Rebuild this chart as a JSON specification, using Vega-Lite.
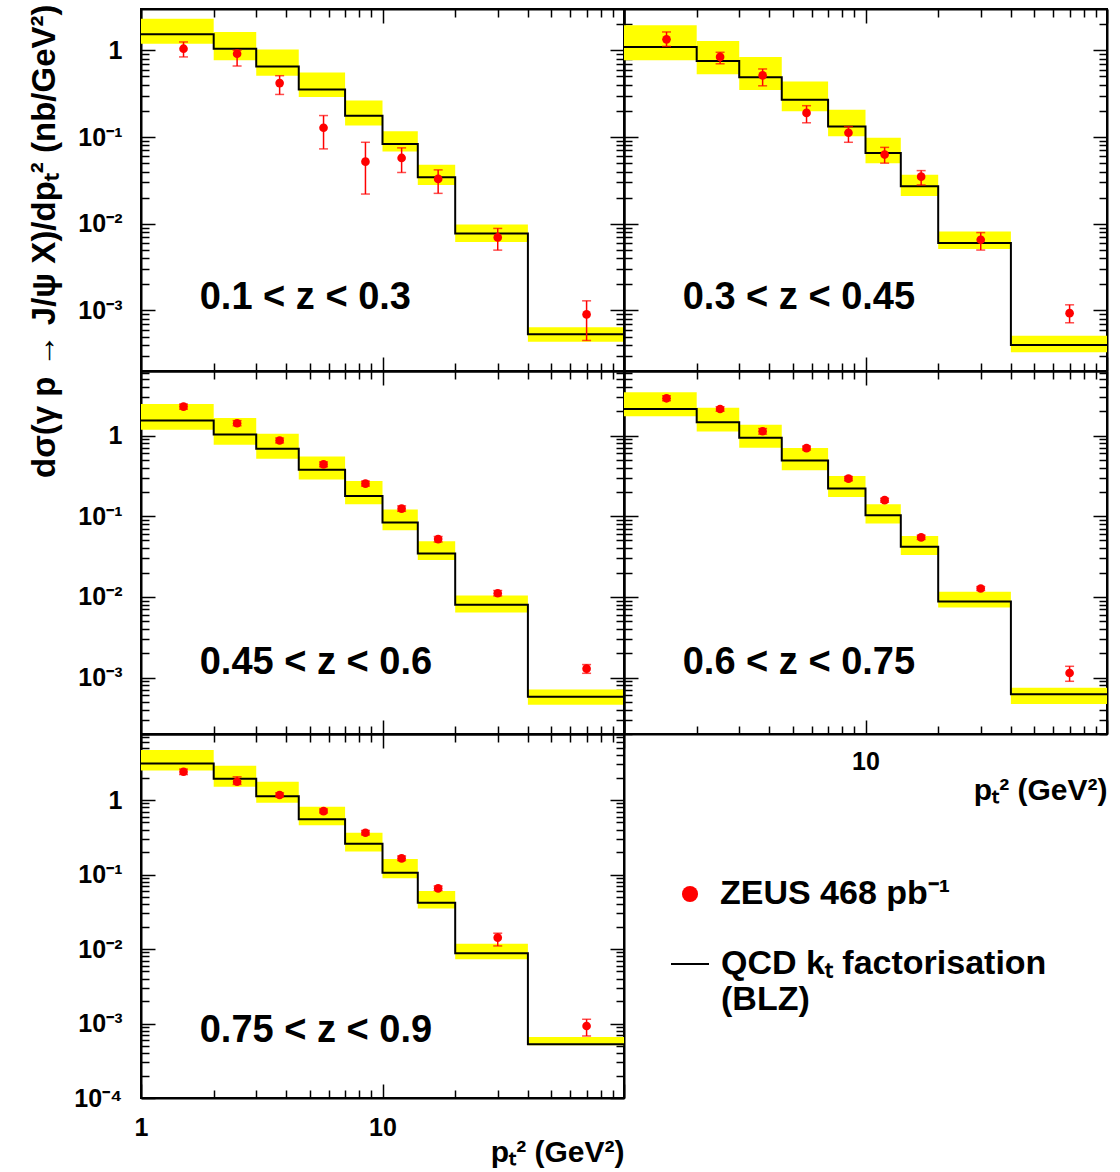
{
"$schema": "https://vega.github.io/schema/vega-lite/v6.json",
"background": "white",
"padding": {"left": 26, "top": 3, "right": 0, "bottom": 0},
"columns": 2,
"spacing": 0,
"bounds": "flush",
"config": {
  "view": {"stroke": "black", "strokeWidth": 2},
  "axis": {"domainColor": "black", "domainWidth": 2, "tickColor": "black", "tickWidth": 1.5, "labelFont": "Liberation Sans", "labelFontSize": 25, "labelFontWeight": "bold", "labelColor": "black", "titleFont": "Liberation Sans", "titleFontWeight": "bold", "titleColor": "black", "labelOverlap": false, "labelFlush": false, "grid": false, "zindex": 1}
},
"datasets": {
  "th": [
    {"panel":"p1","lo":1,"hi":2,"v":1.53,"blo":1.19,"bhi":2.32},
    {"panel":"p1","lo":2,"hi":3,"v":1.045,"blo":0.77,"bhi":1.63},
    {"panel":"p1","lo":3,"hi":4.5,"v":0.653,"blo":0.51,"bhi":1.02},
    {"panel":"p1","lo":4.5,"hi":7,"v":0.354,"blo":0.289,"bhi":0.557},
    {"panel":"p1","lo":7,"hi":10,"v":0.176,"blo":0.136,"bhi":0.264},
    {"panel":"p1","lo":10,"hi":14,"v":0.0834,"blo":0.068,"bhi":0.117},
    {"panel":"p1","lo":14,"hi":20,"v":0.0343,"blo":0.028,"bhi":0.048},
    {"panel":"p1","lo":20,"hi":40,"v":0.00773,"blo":0.00617,"bhi":0.00977},
    {"panel":"p1","lo":40,"hi":100,"v":0.00053,"blo":0.000435,"bhi":0.00064},
    {"panel":"p2","lo":1,"hi":2,"v":1.09,"blo":0.77,"bhi":1.95},
    {"panel":"p2","lo":2,"hi":3,"v":0.752,"blo":0.53,"bhi":1.28},
    {"panel":"p2","lo":3,"hi":4.5,"v":0.49,"blo":0.35,"bhi":0.84},
    {"panel":"p2","lo":4.5,"hi":7,"v":0.269,"blo":0.199,"bhi":0.438},
    {"panel":"p2","lo":7,"hi":10,"v":0.132,"blo":0.102,"bhi":0.206},
    {"panel":"p2","lo":10,"hi":14,"v":0.0656,"blo":0.05,"bhi":0.098},
    {"panel":"p2","lo":14,"hi":20,"v":0.027,"blo":0.0209,"bhi":0.0368},
    {"panel":"p2","lo":20,"hi":40,"v":0.006,"blo":0.0051,"bhi":0.00815},
    {"panel":"p2","lo":40,"hi":100,"v":0.0004,"blo":0.00033,"bhi":0.00051},
    {"panel":"p3","lo":1,"hi":2,"v":1.53,"blo":1.18,"bhi":2.46},
    {"panel":"p3","lo":2,"hi":3,"v":1.03,"blo":0.77,"bhi":1.65},
    {"panel":"p3","lo":3,"hi":4.5,"v":0.685,"blo":0.515,"bhi":1.05},
    {"panel":"p3","lo":4.5,"hi":7,"v":0.377,"blo":0.284,"bhi":0.55},
    {"panel":"p3","lo":7,"hi":10,"v":0.178,"blo":0.141,"bhi":0.273},
    {"panel":"p3","lo":10,"hi":14,"v":0.0836,"blo":0.067,"bhi":0.121},
    {"panel":"p3","lo":14,"hi":20,"v":0.0346,"blo":0.0286,"bhi":0.049},
    {"panel":"p3","lo":20,"hi":40,"v":0.008,"blo":0.0064,"bhi":0.0104},
    {"panel":"p3","lo":40,"hi":100,"v":0.00058,"blo":0.00046,"bhi":0.00071},
    {"panel":"p4","lo":1,"hi":2,"v":2.13,"blo":1.73,"bhi":3.43},
    {"panel":"p4","lo":2,"hi":3,"v":1.46,"blo":1.12,"bhi":2.2},
    {"panel":"p4","lo":3,"hi":4.5,"v":0.936,"blo":0.705,"bhi":1.36},
    {"panel":"p4","lo":4.5,"hi":7,"v":0.491,"blo":0.37,"bhi":0.698},
    {"panel":"p4","lo":7,"hi":10,"v":0.22,"blo":0.173,"bhi":0.315},
    {"panel":"p4","lo":10,"hi":14,"v":0.103,"blo":0.081,"bhi":0.141},
    {"panel":"p4","lo":14,"hi":20,"v":0.0418,"blo":0.033,"bhi":0.057},
    {"panel":"p4","lo":20,"hi":40,"v":0.00875,"blo":0.0074,"bhi":0.0116},
    {"panel":"p4","lo":40,"hi":100,"v":0.00062,"blo":0.00047,"bhi":0.00075},
    {"panel":"p5","lo":1,"hi":2,"v":3.1,"blo":2.5,"bhi":4.69},
    {"panel":"p5","lo":2,"hi":3,"v":1.93,"blo":1.51,"bhi":2.89},
    {"panel":"p5","lo":3,"hi":4.5,"v":1.12,"blo":0.92,"bhi":1.76},
    {"panel":"p5","lo":4.5,"hi":7,"v":0.551,"blo":0.457,"bhi":0.81},
    {"panel":"p5","lo":7,"hi":10,"v":0.259,"blo":0.203,"bhi":0.364},
    {"panel":"p5","lo":10,"hi":14,"v":0.106,"blo":0.089,"bhi":0.161},
    {"panel":"p5","lo":14,"hi":20,"v":0.0419,"blo":0.035,"bhi":0.06},
    {"panel":"p5","lo":20,"hi":40,"v":0.00875,"blo":0.0073,"bhi":0.0118},
    {"panel":"p5","lo":40,"hi":100,"v":0.000526,"blo":0.00051,"bhi":0.00066}
  ],
  "pts": [
    {"panel":"p1","x":1.5,"y":1.045,"elo":0.84,"ehi":1.25},
    {"panel":"p1","x":2.5,"y":0.915,"elo":0.66,"ehi":1.0},
    {"panel":"p1","x":3.75,"y":0.419,"elo":0.31,"ehi":0.51},
    {"panel":"p1","x":5.7,"y":0.128,"elo":0.073,"ehi":0.177},
    {"panel":"p1","x":8.5,"y":0.052,"elo":0.022,"ehi":0.087},
    {"panel":"p1","x":12,"y":0.0574,"elo":0.039,"ehi":0.075},
    {"panel":"p1","x":17,"y":0.0329,"elo":0.0224,"ehi":0.0418},
    {"panel":"p1","x":30,"y":0.00695,"elo":0.00496,"ehi":0.00883},
    {"panel":"p1","x":70,"y":0.0009,"elo":0.00045,"ehi":0.00129},
    {"panel":"p2","x":1.5,"y":1.34,"elo":1.11,"ehi":1.63},
    {"panel":"p2","x":2.5,"y":0.84,"elo":0.7,"ehi":0.95},
    {"panel":"p2","x":3.75,"y":0.514,"elo":0.39,"ehi":0.61},
    {"panel":"p2","x":5.7,"y":0.19,"elo":0.146,"ehi":0.23},
    {"panel":"p2","x":8.5,"y":0.112,"elo":0.087,"ehi":0.132},
    {"panel":"p2","x":12,"y":0.0628,"elo":0.05,"ehi":0.076},
    {"panel":"p2","x":17,"y":0.0349,"elo":0.028,"ehi":0.041},
    {"panel":"p2","x":30,"y":0.00653,"elo":0.00497,"ehi":0.0079},
    {"panel":"p2","x":70,"y":0.00093,"elo":0.00072,"ehi":0.00116},
    {"panel":"p3","x":1.5,"y":2.28,"elo":2.12,"ehi":2.45},
    {"panel":"p3","x":2.5,"y":1.42,"elo":1.32,"ehi":1.53},
    {"panel":"p3","x":3.75,"y":0.867,"elo":0.81,"ehi":0.93},
    {"panel":"p3","x":5.7,"y":0.438,"elo":0.41,"ehi":0.47},
    {"panel":"p3","x":8.5,"y":0.253,"elo":0.236,"ehi":0.272},
    {"panel":"p3","x":12,"y":0.124,"elo":0.115,"ehi":0.134},
    {"panel":"p3","x":17,"y":0.052,"elo":0.048,"ehi":0.056},
    {"panel":"p3","x":30,"y":0.0111,"elo":0.0103,"ehi":0.012},
    {"panel":"p3","x":70,"y":0.00129,"elo":0.00113,"ehi":0.00145},
    {"panel":"p4","x":1.5,"y":2.89,"elo":2.7,"ehi":3.1},
    {"panel":"p4","x":2.5,"y":2.13,"elo":2.0,"ehi":2.27},
    {"panel":"p4","x":3.75,"y":1.13,"elo":1.04,"ehi":1.22},
    {"panel":"p4","x":5.7,"y":0.698,"elo":0.66,"ehi":0.74},
    {"panel":"p4","x":8.5,"y":0.292,"elo":0.275,"ehi":0.31},
    {"panel":"p4","x":12,"y":0.158,"elo":0.149,"ehi":0.167},
    {"panel":"p4","x":17,"y":0.0546,"elo":0.0515,"ehi":0.058},
    {"panel":"p4","x":30,"y":0.0127,"elo":0.012,"ehi":0.0134},
    {"panel":"p4","x":70,"y":0.00114,"elo":0.0009,"ehi":0.00138},
    {"panel":"p5","x":1.5,"y":2.4,"elo":2.2,"ehi":2.6},
    {"panel":"p5","x":2.5,"y":1.76,"elo":1.62,"ehi":2.05},
    {"panel":"p5","x":3.75,"y":1.17,"elo":1.1,"ehi":1.25},
    {"panel":"p5","x":5.7,"y":0.711,"elo":0.67,"ehi":0.76},
    {"panel":"p5","x":8.5,"y":0.364,"elo":0.34,"ehi":0.39},
    {"panel":"p5","x":12,"y":0.165,"elo":0.154,"ehi":0.177},
    {"panel":"p5","x":17,"y":0.0652,"elo":0.061,"ehi":0.07},
    {"panel":"p5","x":30,"y":0.0142,"elo":0.011,"ehi":0.0163},
    {"panel":"p5","x":70,"y":0.000925,"elo":0.00068,"ehi":0.00114}
  ],
  "lab": [
    {"panel":"p1","label":"0.1 < z < 0.3"},
    {"panel":"p2","label":"0.3 < z < 0.45"},
    {"panel":"p3","label":"0.45 < z < 0.6"},
    {"panel":"p4","label":"0.6 < z < 0.75"},
    {"panel":"p5","label":"0.75 < z < 0.9"}
  ]
},
"concat": [
{
 "width": 483, "height": 362,
 "resolve": {"axis": {"x": "independent", "y": "independent"}},
 "layer": [
  {"data":{"name":"th"},"transform":[{"filter":"datum.panel=='p1'"}],
   "mark":{"type":"rect","color":"#ffff00"},
   "encoding":{
    "x":{"field":"lo","type":"quantitative","scale":{"type":"log","domain":[1,100],"nice":false},"axis":{"orient":"bottom","values":[1,2,3,4,5,6,7,8,9,10,20,30,40,50,60,70,80,90,100],"tickSize":{"condition":{"test":"abs(log(datum.value)/LN10 - round(log(datum.value)/LN10)) < 0.000001","value":-14},"value":-8},"labels":false,"title":null}},
    "x2":{"field":"hi"},
    "y":{"field":"blo","type":"quantitative","scale":{"type":"log","domain":[0.0002,3],"nice":false},"axis":{"orient":"left","values":[0.0002,0.0003,0.0004,0.0005,0.0006,0.0007,0.0008,0.0009,0.001,0.002,0.003,0.004,0.005,0.006,0.007,0.008,0.009,0.01,0.02,0.03,0.04,0.05,0.06,0.07,0.08,0.09,0.1,0.2,0.3,0.4,0.5,0.6,0.7,0.8,0.9,1,2],"tickSize":{"condition":{"test":"abs(log(datum.value)/LN10 - round(log(datum.value)/LN10)) < 0.000001","value":-14},"value":-8},"labelPadding":33,"labelExpr":"(abs(log(datum.value)/LN10 - round(log(datum.value)/LN10)) < 0.000001) ? (round(log(datum.value)/LN10) == 0 ? '1' : '10' + ['⁻¹','⁻²','⁻³','⁻⁴'][-round(log(datum.value)/LN10) - 1]) : ''","title":"dσ(γ p → J/ψ X)/dpₜ² (nb/GeV²)","titleFontSize":33,"titleAnchor":"end","titleX":-80,"titleY":-5,"titleBaseline":"bottom"}},
    "y2":{"field":"bhi"}}},
  {"data":{"name":"th"},"transform":[{"filter":"datum.panel=='p1'"},{"fold":["lo","hi"],"as":["edge","xe"]}],
   "mark":{"type":"line","color":"#000000","strokeWidth":2},
   "encoding":{"x":{"field":"xe","type":"quantitative","axis":null},"y":{"field":"v","type":"quantitative","axis":null},"order":[{"field":"lo","type":"quantitative"},{"field":"edge","type":"nominal","sort":"descending"}],
    "strokeDash":{"datum":"QCD","type":"nominal","scale":{"range":[[1,0]]},
      "legend":{"orient":"none","legendX":529,"legendY":935,"title":null,"labelFont":"Liberation Sans","labelFontSize":34,"labelFontWeight":"bold","labelColor":"#000000","labelOffset":11,"symbolType":"stroke","symbolSize":1444,"symbolStrokeColor":"#000000","symbolStrokeWidth":2,"labelLimit":0,
        "labelExpr":"['QCD kₜ factorisation', '(BLZ)']"}}}},
  {"data":{"name":"pts"},"transform":[{"filter":"datum.panel=='p1'"}],
   "mark":{"type":"rule","color":"#ff0000","strokeWidth":1.5},
   "encoding":{"x":{"field":"x","type":"quantitative","axis":null},"y":{"field":"elo","type":"quantitative","axis":null},"y2":{"field":"ehi"}}},
  {"data":{"name":"pts"},"transform":[{"filter":"datum.panel=='p1'"},{"fold":["elo","ehi"],"as":["end","ye"]}],
   "mark":{"type":"tick","orient":"horizontal","color":"#ff0000","size":9,"thickness":1.5},
   "encoding":{"x":{"field":"x","type":"quantitative","axis":null},"y":{"field":"ye","type":"quantitative","axis":null}}},
  {"data":{"name":"pts"},"transform":[{"filter":"datum.panel=='p1'"}],
   "mark":{"type":"point","filled":true,"size":75,"opacity":1},
   "encoding":{
    "x":{"field":"x","type":"quantitative","axis":{"orient":"top","values":[1,2,3,4,5,6,7,8,9,10,20,30,40,50,60,70,80,90,100],"tickSize":{"condition":{"test":"abs(log(datum.value)/LN10 - round(log(datum.value)/LN10)) < 0.000001","value":-14},"value":-8},"labels":false,"title":null}},
    "y":{"field":"y","type":"quantitative","axis":{"orient":"right","values":[0.0002,0.0003,0.0004,0.0005,0.0006,0.0007,0.0008,0.0009,0.001,0.002,0.003,0.004,0.005,0.006,0.007,0.008,0.009,0.01,0.02,0.03,0.04,0.05,0.06,0.07,0.08,0.09,0.1,0.2,0.3,0.4,0.5,0.6,0.7,0.8,0.9,1,2],"tickSize":{"condition":{"test":"abs(log(datum.value)/LN10 - round(log(datum.value)/LN10)) < 0.000001","value":-14},"value":-8},"labels":false,"title":null}},
    "color":{"datum":"ZEUS","type":"nominal","scale":{"range":["#ff0000"]},
      "legend":{"orient":"none","legendX":532,"legendY":868,"title":null,"labelFont":"Liberation Sans","labelFontSize":34,"labelFontWeight":"bold","labelColor":"#000000","labelOffset":13,"symbolType":"circle","symbolSize":260,"labelLimit":0,
        "labelExpr":"'ZEUS 468 pb⁻¹'"}}}},
  {"data":{"name":"lab"},"transform":[{"filter":"datum.panel=='p1'"}],
   "mark":{"type":"text","align":"left","baseline":"middle","fontSize":38,"fontWeight":"bold","font":"Liberation Sans","color":"#000000"},
   "encoding":{"x":{"datum":1.75,"type":"quantitative","axis":null},"y":{"datum":0.0014,"type":"quantitative","axis":null},"text":{"field":"label"}}}
 ]
},
{
 "width": 483, "height": 362,
 "resolve": {"axis": {"x": "independent", "y": "independent"}},
 "layer": [
  {"data":{"name":"th"},"transform":[{"filter":"datum.panel=='p2'"}],
   "mark":{"type":"rect","color":"#ffff00"},
   "encoding":{
    "x":{"field":"lo","type":"quantitative","scale":{"type":"log","domain":[1,100],"nice":false},"axis":{"orient":"bottom","values":[1,2,3,4,5,6,7,8,9,10,20,30,40,50,60,70,80,90,100],"tickSize":{"condition":{"test":"abs(log(datum.value)/LN10 - round(log(datum.value)/LN10)) < 0.000001","value":-14},"value":-8},"labels":false,"title":null}},
    "x2":{"field":"hi"},
    "y":{"field":"blo","type":"quantitative","scale":{"type":"log","domain":[0.0002,3],"nice":false},"axis":{"orient":"left","values":[0.0002,0.0003,0.0004,0.0005,0.0006,0.0007,0.0008,0.0009,0.001,0.002,0.003,0.004,0.005,0.006,0.007,0.008,0.009,0.01,0.02,0.03,0.04,0.05,0.06,0.07,0.08,0.09,0.1,0.2,0.3,0.4,0.5,0.6,0.7,0.8,0.9,1,2],"tickSize":{"condition":{"test":"abs(log(datum.value)/LN10 - round(log(datum.value)/LN10)) < 0.000001","value":-14},"value":-8},"labels":false,"title":null}},
    "y2":{"field":"bhi"}}},
  {"data":{"name":"th"},"transform":[{"filter":"datum.panel=='p2'"},{"fold":["lo","hi"],"as":["edge","xe"]}],
   "mark":{"type":"line","color":"#000000","strokeWidth":2},
   "encoding":{"x":{"field":"xe","type":"quantitative","axis":null},"y":{"field":"v","type":"quantitative","axis":null},"order":[{"field":"lo","type":"quantitative"},{"field":"edge","type":"nominal","sort":"descending"}]}},
  {"data":{"name":"pts"},"transform":[{"filter":"datum.panel=='p2'"}],
   "mark":{"type":"rule","color":"#ff0000","strokeWidth":1.5},
   "encoding":{"x":{"field":"x","type":"quantitative","axis":null},"y":{"field":"elo","type":"quantitative","axis":null},"y2":{"field":"ehi"}}},
  {"data":{"name":"pts"},"transform":[{"filter":"datum.panel=='p2'"},{"fold":["elo","ehi"],"as":["end","ye"]}],
   "mark":{"type":"tick","orient":"horizontal","color":"#ff0000","size":9,"thickness":1.5},
   "encoding":{"x":{"field":"x","type":"quantitative","axis":null},"y":{"field":"ye","type":"quantitative","axis":null}}},
  {"data":{"name":"pts"},"transform":[{"filter":"datum.panel=='p2'"}],
   "mark":{"type":"point","filled":true,"size":75,"opacity":1,"color":"#ff0000"},
   "encoding":{
    "x":{"field":"x","type":"quantitative","axis":{"orient":"top","values":[1,2,3,4,5,6,7,8,9,10,20,30,40,50,60,70,80,90,100],"tickSize":{"condition":{"test":"abs(log(datum.value)/LN10 - round(log(datum.value)/LN10)) < 0.000001","value":-14},"value":-8},"labels":false,"title":null}},
    "y":{"field":"y","type":"quantitative","axis":{"orient":"right","values":[0.0002,0.0003,0.0004,0.0005,0.0006,0.0007,0.0008,0.0009,0.001,0.002,0.003,0.004,0.005,0.006,0.007,0.008,0.009,0.01,0.02,0.03,0.04,0.05,0.06,0.07,0.08,0.09,0.1,0.2,0.3,0.4,0.5,0.6,0.7,0.8,0.9,1,2],"tickSize":{"condition":{"test":"abs(log(datum.value)/LN10 - round(log(datum.value)/LN10)) < 0.000001","value":-14},"value":-8},"labels":false,"title":null}}}},
  {"data":{"name":"lab"},"transform":[{"filter":"datum.panel=='p2'"}],
   "mark":{"type":"text","align":"left","baseline":"middle","fontSize":38,"fontWeight":"bold","font":"Liberation Sans","color":"#000000"},
   "encoding":{"x":{"datum":1.75,"type":"quantitative","axis":null},"y":{"datum":0.0014,"type":"quantitative","axis":null},"text":{"field":"label"}}}
 ]
},
{
 "width": 483, "height": 363,
 "resolve": {"axis": {"x": "independent", "y": "independent"}},
 "layer": [
  {"data":{"name":"th"},"transform":[{"filter":"datum.panel=='p3'"}],
   "mark":{"type":"rect","color":"#ffff00"},
   "encoding":{
    "x":{"field":"lo","type":"quantitative","scale":{"type":"log","domain":[1,100],"nice":false},"axis":{"orient":"bottom","values":[1,2,3,4,5,6,7,8,9,10,20,30,40,50,60,70,80,90,100],"tickSize":{"condition":{"test":"abs(log(datum.value)/LN10 - round(log(datum.value)/LN10)) < 0.000001","value":-14},"value":-8},"labels":false,"title":null}},
    "x2":{"field":"hi"},
    "y":{"field":"blo","type":"quantitative","scale":{"type":"log","domain":[0.0002,6.3],"nice":false},"axis":{"orient":"left","values":[0.0002,0.0003,0.0004,0.0005,0.0006,0.0007,0.0008,0.0009,0.001,0.002,0.003,0.004,0.005,0.006,0.007,0.008,0.009,0.01,0.02,0.03,0.04,0.05,0.06,0.07,0.08,0.09,0.1,0.2,0.3,0.4,0.5,0.6,0.7,0.8,0.9,1,2,3,4,5,6],"tickSize":{"condition":{"test":"abs(log(datum.value)/LN10 - round(log(datum.value)/LN10)) < 0.000001","value":-14},"value":-8},"labelPadding":33,"labelExpr":"(abs(log(datum.value)/LN10 - round(log(datum.value)/LN10)) < 0.000001) ? (round(log(datum.value)/LN10) == 0 ? '1' : '10' + ['⁻¹','⁻²','⁻³','⁻⁴'][-round(log(datum.value)/LN10) - 1]) : ''","title":null}},
    "y2":{"field":"bhi"}}},
  {"data":{"name":"th"},"transform":[{"filter":"datum.panel=='p3'"},{"fold":["lo","hi"],"as":["edge","xe"]}],
   "mark":{"type":"line","color":"#000000","strokeWidth":2},
   "encoding":{"x":{"field":"xe","type":"quantitative","axis":null},"y":{"field":"v","type":"quantitative","axis":null},"order":[{"field":"lo","type":"quantitative"},{"field":"edge","type":"nominal","sort":"descending"}]}},
  {"data":{"name":"pts"},"transform":[{"filter":"datum.panel=='p3'"}],
   "mark":{"type":"rule","color":"#ff0000","strokeWidth":1.5},
   "encoding":{"x":{"field":"x","type":"quantitative","axis":null},"y":{"field":"elo","type":"quantitative","axis":null},"y2":{"field":"ehi"}}},
  {"data":{"name":"pts"},"transform":[{"filter":"datum.panel=='p3'"},{"fold":["elo","ehi"],"as":["end","ye"]}],
   "mark":{"type":"tick","orient":"horizontal","color":"#ff0000","size":9,"thickness":1.5},
   "encoding":{"x":{"field":"x","type":"quantitative","axis":null},"y":{"field":"ye","type":"quantitative","axis":null}}},
  {"data":{"name":"pts"},"transform":[{"filter":"datum.panel=='p3'"}],
   "mark":{"type":"point","filled":true,"size":75,"opacity":1,"color":"#ff0000"},
   "encoding":{
    "x":{"field":"x","type":"quantitative","axis":{"orient":"top","values":[1,2,3,4,5,6,7,8,9,10,20,30,40,50,60,70,80,90,100],"tickSize":{"condition":{"test":"abs(log(datum.value)/LN10 - round(log(datum.value)/LN10)) < 0.000001","value":-14},"value":-8},"labels":false,"title":null}},
    "y":{"field":"y","type":"quantitative","axis":{"orient":"right","values":[0.0002,0.0003,0.0004,0.0005,0.0006,0.0007,0.0008,0.0009,0.001,0.002,0.003,0.004,0.005,0.006,0.007,0.008,0.009,0.01,0.02,0.03,0.04,0.05,0.06,0.07,0.08,0.09,0.1,0.2,0.3,0.4,0.5,0.6,0.7,0.8,0.9,1,2,3,4,5,6],"tickSize":{"condition":{"test":"abs(log(datum.value)/LN10 - round(log(datum.value)/LN10)) < 0.000001","value":-14},"value":-8},"labels":false,"title":null}}}},
  {"data":{"name":"lab"},"transform":[{"filter":"datum.panel=='p3'"}],
   "mark":{"type":"text","align":"left","baseline":"middle","fontSize":38,"fontWeight":"bold","font":"Liberation Sans","color":"#000000"},
   "encoding":{"x":{"datum":1.75,"type":"quantitative","axis":null},"y":{"datum":0.0015,"type":"quantitative","axis":null},"text":{"field":"label"}}}
 ]
},
{
 "width": 483, "height": 363,
 "resolve": {"axis": {"x": "independent", "y": "independent"}},
 "layer": [
  {"data":{"name":"th"},"transform":[{"filter":"datum.panel=='p4'"}],
   "mark":{"type":"rect","color":"#ffff00"},
   "encoding":{
    "x":{"field":"lo","type":"quantitative","scale":{"type":"log","domain":[1,100],"nice":false},"axis":{"orient":"bottom","values":[1,2,3,4,5,6,7,8,9,10,20,30,40,50,60,70,80,90,100],"tickSize":{"condition":{"test":"abs(log(datum.value)/LN10 - round(log(datum.value)/LN10)) < 0.000001","value":-14},"value":-8},"labelPadding":29,"labelExpr":"datum.value == 10 ? '10' : ''","title":"pₜ² (GeV²)","titleFontSize":30,"titleAnchor":"end","titleY":41,"titleBaseline":"top"}},
    "x2":{"field":"hi"},
    "y":{"field":"blo","type":"quantitative","scale":{"type":"log","domain":[0.0002,6.3],"nice":false},"axis":{"orient":"left","values":[0.0002,0.0003,0.0004,0.0005,0.0006,0.0007,0.0008,0.0009,0.001,0.002,0.003,0.004,0.005,0.006,0.007,0.008,0.009,0.01,0.02,0.03,0.04,0.05,0.06,0.07,0.08,0.09,0.1,0.2,0.3,0.4,0.5,0.6,0.7,0.8,0.9,1,2,3,4,5,6],"tickSize":{"condition":{"test":"abs(log(datum.value)/LN10 - round(log(datum.value)/LN10)) < 0.000001","value":-14},"value":-8},"labels":false,"title":null}},
    "y2":{"field":"bhi"}}},
  {"data":{"name":"th"},"transform":[{"filter":"datum.panel=='p4'"},{"fold":["lo","hi"],"as":["edge","xe"]}],
   "mark":{"type":"line","color":"#000000","strokeWidth":2},
   "encoding":{"x":{"field":"xe","type":"quantitative","axis":null},"y":{"field":"v","type":"quantitative","axis":null},"order":[{"field":"lo","type":"quantitative"},{"field":"edge","type":"nominal","sort":"descending"}]}},
  {"data":{"name":"pts"},"transform":[{"filter":"datum.panel=='p4'"}],
   "mark":{"type":"rule","color":"#ff0000","strokeWidth":1.5},
   "encoding":{"x":{"field":"x","type":"quantitative","axis":null},"y":{"field":"elo","type":"quantitative","axis":null},"y2":{"field":"ehi"}}},
  {"data":{"name":"pts"},"transform":[{"filter":"datum.panel=='p4'"},{"fold":["elo","ehi"],"as":["end","ye"]}],
   "mark":{"type":"tick","orient":"horizontal","color":"#ff0000","size":9,"thickness":1.5},
   "encoding":{"x":{"field":"x","type":"quantitative","axis":null},"y":{"field":"ye","type":"quantitative","axis":null}}},
  {"data":{"name":"pts"},"transform":[{"filter":"datum.panel=='p4'"}],
   "mark":{"type":"point","filled":true,"size":75,"opacity":1,"color":"#ff0000"},
   "encoding":{
    "x":{"field":"x","type":"quantitative","axis":{"orient":"top","values":[1,2,3,4,5,6,7,8,9,10,20,30,40,50,60,70,80,90,100],"tickSize":{"condition":{"test":"abs(log(datum.value)/LN10 - round(log(datum.value)/LN10)) < 0.000001","value":-14},"value":-8},"labels":false,"title":null}},
    "y":{"field":"y","type":"quantitative","axis":{"orient":"right","values":[0.0002,0.0003,0.0004,0.0005,0.0006,0.0007,0.0008,0.0009,0.001,0.002,0.003,0.004,0.005,0.006,0.007,0.008,0.009,0.01,0.02,0.03,0.04,0.05,0.06,0.07,0.08,0.09,0.1,0.2,0.3,0.4,0.5,0.6,0.7,0.8,0.9,1,2,3,4,5,6],"tickSize":{"condition":{"test":"abs(log(datum.value)/LN10 - round(log(datum.value)/LN10)) < 0.000001","value":-14},"value":-8},"labels":false,"title":null}}}},
  {"data":{"name":"lab"},"transform":[{"filter":"datum.panel=='p4'"}],
   "mark":{"type":"text","align":"left","baseline":"middle","fontSize":38,"fontWeight":"bold","font":"Liberation Sans","color":"#000000"},
   "encoding":{"x":{"datum":1.75,"type":"quantitative","axis":null},"y":{"datum":0.0015,"type":"quantitative","axis":null},"text":{"field":"label"}}}
 ]
},
{
 "width": 483, "height": 364,
 "resolve": {"axis": {"x": "independent", "y": "independent"}},
 "layer": [
  {"data":{"name":"th"},"transform":[{"filter":"datum.panel=='p5'"}],
   "mark":{"type":"rect","color":"#ffff00"},
   "encoding":{
    "x":{"field":"lo","type":"quantitative","scale":{"type":"log","domain":[1,100],"nice":false},"axis":{"orient":"bottom","values":[1,2,3,4,5,6,7,8,9,10,20,30,40,50,60,70,80,90,100],"tickSize":{"condition":{"test":"abs(log(datum.value)/LN10 - round(log(datum.value)/LN10)) < 0.000001","value":-14},"value":-8},"labelPadding":31,"labelExpr":"datum.value == 1 ? '1' : (datum.value == 10 ? '10' : '')","title":"pₜ² (GeV²)","titleFontSize":30,"titleAnchor":"end","titleY":39,"titleBaseline":"top"}},
    "x2":{"field":"hi"},
    "y":{"field":"blo","type":"quantitative","scale":{"type":"log","domain":[0.0001,7.7],"nice":false},"axis":{"orient":"left","values":[0.0001,0.0002,0.0003,0.0004,0.0005,0.0006,0.0007,0.0008,0.0009,0.001,0.002,0.003,0.004,0.005,0.006,0.007,0.008,0.009,0.01,0.02,0.03,0.04,0.05,0.06,0.07,0.08,0.09,0.1,0.2,0.3,0.4,0.5,0.6,0.7,0.8,0.9,1,2,3,4,5,6,7],"tickSize":{"condition":{"test":"abs(log(datum.value)/LN10 - round(log(datum.value)/LN10)) < 0.000001","value":-14},"value":-8},"labelPadding":33,"labelExpr":"(abs(log(datum.value)/LN10 - round(log(datum.value)/LN10)) < 0.000001) ? (round(log(datum.value)/LN10) == 0 ? '1' : '10' + ['⁻¹','⁻²','⁻³','⁻⁴'][-round(log(datum.value)/LN10) - 1]) : ''","title":null}},
    "y2":{"field":"bhi"}}},
  {"data":{"name":"th"},"transform":[{"filter":"datum.panel=='p5'"},{"fold":["lo","hi"],"as":["edge","xe"]}],
   "mark":{"type":"line","color":"#000000","strokeWidth":2},
   "encoding":{"x":{"field":"xe","type":"quantitative","axis":null},"y":{"field":"v","type":"quantitative","axis":null},"order":[{"field":"lo","type":"quantitative"},{"field":"edge","type":"nominal","sort":"descending"}]}},
  {"data":{"name":"pts"},"transform":[{"filter":"datum.panel=='p5'"}],
   "mark":{"type":"rule","color":"#ff0000","strokeWidth":1.5},
   "encoding":{"x":{"field":"x","type":"quantitative","axis":null},"y":{"field":"elo","type":"quantitative","axis":null},"y2":{"field":"ehi"}}},
  {"data":{"name":"pts"},"transform":[{"filter":"datum.panel=='p5'"},{"fold":["elo","ehi"],"as":["end","ye"]}],
   "mark":{"type":"tick","orient":"horizontal","color":"#ff0000","size":9,"thickness":1.5},
   "encoding":{"x":{"field":"x","type":"quantitative","axis":null},"y":{"field":"ye","type":"quantitative","axis":null}}},
  {"data":{"name":"pts"},"transform":[{"filter":"datum.panel=='p5'"}],
   "mark":{"type":"point","filled":true,"size":75,"opacity":1,"color":"#ff0000"},
   "encoding":{
    "x":{"field":"x","type":"quantitative","axis":{"orient":"top","values":[1,2,3,4,5,6,7,8,9,10,20,30,40,50,60,70,80,90,100],"tickSize":{"condition":{"test":"abs(log(datum.value)/LN10 - round(log(datum.value)/LN10)) < 0.000001","value":-14},"value":-8},"labels":false,"title":null}},
    "y":{"field":"y","type":"quantitative","axis":{"orient":"right","values":[0.0001,0.0002,0.0003,0.0004,0.0005,0.0006,0.0007,0.0008,0.0009,0.001,0.002,0.003,0.004,0.005,0.006,0.007,0.008,0.009,0.01,0.02,0.03,0.04,0.05,0.06,0.07,0.08,0.09,0.1,0.2,0.3,0.4,0.5,0.6,0.7,0.8,0.9,1,2,3,4,5,6,7],"tickSize":{"condition":{"test":"abs(log(datum.value)/LN10 - round(log(datum.value)/LN10)) < 0.000001","value":-14},"value":-8},"labels":false,"title":null}}}},
  {"data":{"name":"lab"},"transform":[{"filter":"datum.panel=='p5'"}],
   "mark":{"type":"text","align":"left","baseline":"middle","fontSize":38,"fontWeight":"bold","font":"Liberation Sans","color":"#000000"},
   "encoding":{"x":{"datum":1.75,"type":"quantitative","axis":null},"y":{"datum":0.00079,"type":"quantitative","axis":null},"text":{"field":"label"}}}
 ]
}
]
}
